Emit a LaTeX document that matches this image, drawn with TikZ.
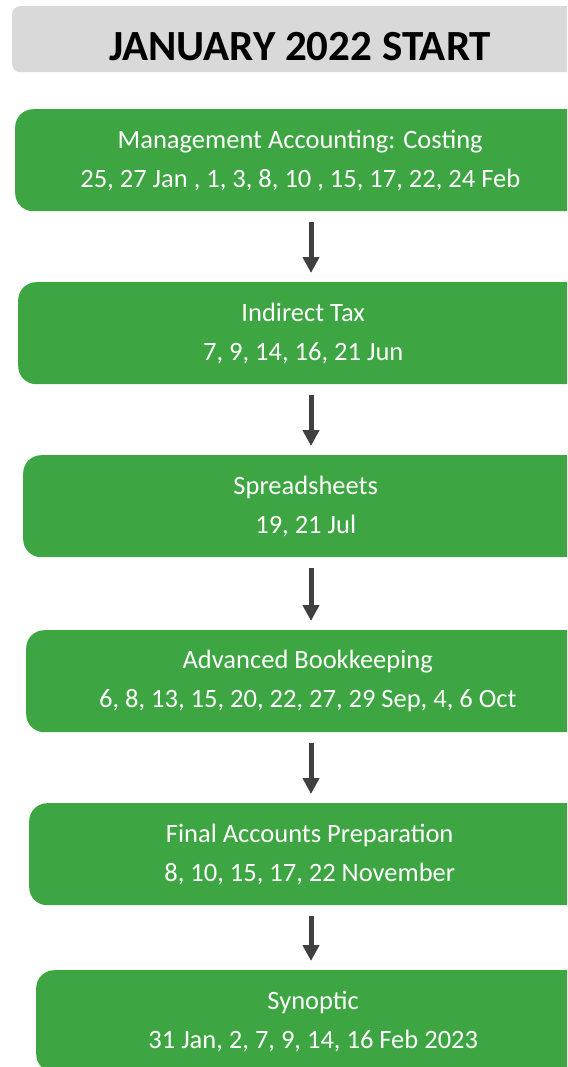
\documentclass[tikz,border=0pt]{standalone}
\usepackage{fontspec}
\setmainfont{Carlito}
\usetikzlibrary{arrows.meta}
\definecolor{boxgreen}{HTML}{3DA642}
\definecolor{hdrgray}{HTML}{D9D9D9}
\definecolor{arrgray}{HTML}{404040}
\begin{document}
\begin{tikzpicture}[x=1pt,y=-1pt,
  course/.style={fill=boxgreen, rounded corners=18pt, minimum height=102pt,
    anchor=north west, inner sep=0pt, text=white, align=center,
    font=\fontsize{26.5}{39}\selectfont},
  flow/.style={draw=arrgray, line width=5pt, -{Triangle[width=16pt,length=16pt]}},
]
\useasboundingbox (0,0) rectangle (567,1067);
\clip (0,0) rectangle (567,1067);
\node[fill=hdrgray, rounded corners=8pt, anchor=north west, minimum width=600pt,
  minimum height=66pt, inner sep=0pt] (hdr) at (12,6) {};
\node[font=\fontsize{43}{48}\selectfont\bfseries, inner sep=0pt] (title) at (300,46.5) {JANUARY 2022 START};

\node[course, minimum width=570pt] (b1) at (15,109) {Management Accounting: Costing\\25, 27 Jan , 1, 3, 8, 10 , 15, 17, 22, 24 Feb};
\node[course, minimum width=570pt] (b2) at (18,282) {Indirect Tax\\7, 9, 14, 16, 21 Jun};
\node[course, minimum width=565pt] (b3) at (23,455) {Spreadsheets\\19, 21 Jul};
\node[course, minimum width=563pt] (b4) at (26,630) {Advanced Bookkeeping\\6, 8, 13, 15, 20, 22, 27, 29 Sep, 4, 6 Oct};
\node[course, minimum width=561pt] (b5) at (29,803) {Final Accounts Preparation\\8, 10, 15, 17, 22 November};
\node[course, minimum width=554pt] (b6) at (36,970) {Synoptic\\31 Jan, 2, 7, 9, 14, 16 Feb 2023};

\coordinate (ax) at (311,0);
\draw[flow] ([yshift=-11pt]b1.south -| ax) -- ([yshift=9pt]b2.north -| ax);
\draw[flow] ([yshift=-11pt]b2.south -| ax) -- ([yshift=9pt]b3.north -| ax);
\draw[flow] ([yshift=-11pt]b3.south -| ax) -- ([yshift=9pt]b4.north -| ax);
\draw[flow] ([yshift=-11pt]b4.south -| ax) -- ([yshift=9pt]b5.north -| ax);
\draw[flow] ([yshift=-11pt]b5.south -| ax) -- ([yshift=9pt]b6.north -| ax);
\end{tikzpicture}
\end{document}
